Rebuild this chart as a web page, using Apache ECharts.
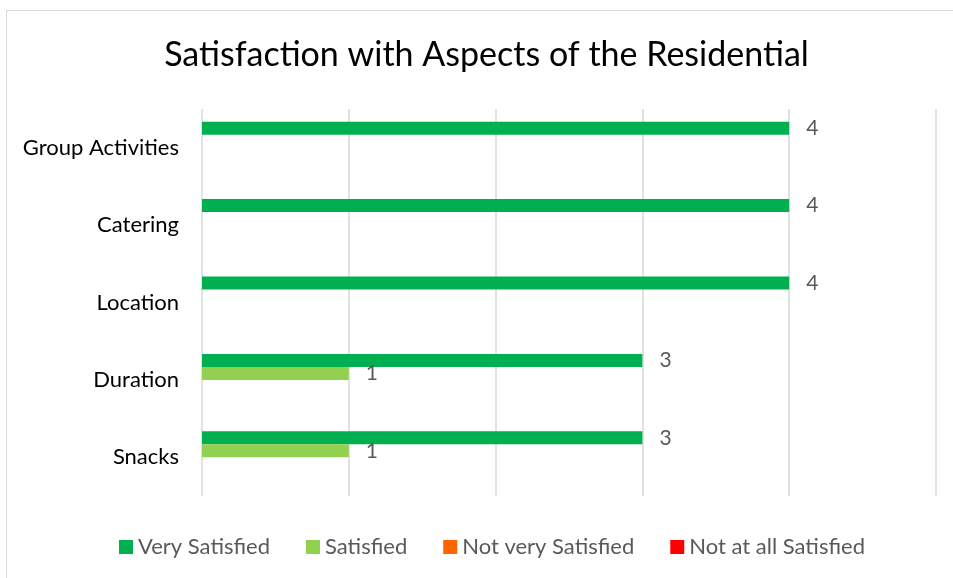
<!DOCTYPE html>
<html>
<head>
    <meta charset="utf-8">
    <title>Satisfaction with Aspects of the Residential</title>
    <script src="https://cdn.jsdelivr.net/npm/echarts@6/dist/echarts.min.js"></script>
    <style>
        html, body { margin: 0; padding: 0; background: #fff; overflow: hidden; }
        #frame {
            position: absolute; left: 6px; top: 10px;
            width: 960px; height: 580px;
            border: 1.5px solid #d9d9d9; box-sizing: border-box;
        }
        /* the chart area runs past the right edge of the picture */
        #chart { position: absolute; left: 0; top: 0; width: 973px; height: 578px; }
    </style>
</head>
<body>
<div id="frame"></div>
<div id="chart"></div>
<script>
    // categories listed bottom to top, as the y axis draws them
    var categories = ['Snacks', 'Duration', 'Location', 'Catering', 'Group Activities'];
    var seriesNames = ['Very Satisfied', 'Satisfied', 'Not very Satisfied', 'Not at all Satisfied'];
    var verySatisfied = [3, 3, 4, 4, 4];
    var satisfied = [1, 1, 0, 0, 0];
    var notVerySatisfied = [0, 0, 0, 0, 0];
    var notAtAllSatisfied = [0, 0, 0, 0, 0];
    var colors = ['#00B050', '#92D050', '#FF6600', '#FF0000'];

    var font = 'Lato';
    var values = [verySatisfied, satisfied, notVerySatisfied, notAtAllSatisfied];

    var series = values.map(function (vals, i) {
        return {
            name: seriesNames[i],
            type: 'bar',
            data: vals,
            barWidth: 13,
            barGap: '0%',
            itemStyle: { color: colors[i] },
            label: {
                show: true,
                position: 'right',
                distance: 17,
                color: '#595959',
                fontFamily: font,
                fontSize: 21,
                formatter: function (p) { return p.value ? p.value : ''; }   // zeros get no label
            }
        };
    });

    var chart = echarts.init(document.getElementById('chart'));
    chart.setOption({
        animation: false,
        title: {
            text: 'Satisfaction with Aspects of the Residential',
            left: 'center',
            top: 33,
            textStyle: { fontFamily: font, fontSize: 34, fontWeight: 'normal', color: '#000' }
        },
        legend: {
            bottom: 15,
            left: 114,
            itemWidth: 14,
            itemHeight: 14,
            itemGap: 36,
            icon: 'rect',
            textStyle: { fontFamily: font, fontSize: 22, color: '#595959' },
            data: seriesNames
        },
        grid: { left: 202, right: 37, top: 109, bottom: 82 },
        xAxis: {
            type: 'value',
            min: 0,
            max: 5,
            interval: 1,
            axisLabel: { show: false },
            axisLine: { show: false },
            axisTick: { show: false },
            splitLine: { lineStyle: { color: '#d9d9d9', width: 1.5 } }
        },
        yAxis: {
            type: 'category',
            data: categories,
            axisLine: { show: false },
            axisTick: { show: false },
            axisLabel: { margin: 23, fontFamily: font, fontSize: 22, color: '#000' }
        },
        series: series
    });
</script>
</body>
</html>
